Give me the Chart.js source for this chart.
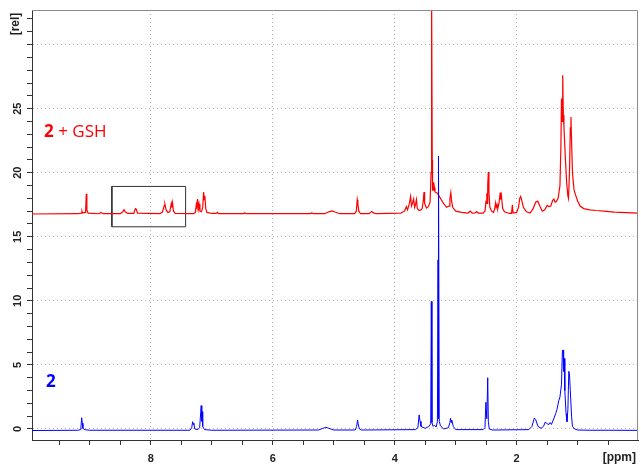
<!DOCTYPE html>
<html>
<head>
<meta charset="utf-8">
<script src="https://cdn.jsdelivr.net/npm/chart.js@4/dist/chart.umd.min.js"></script>
<style>
  html, body { margin: 0; padding: 0; background: #ffffff; }
  #wrap { width: 641px; height: 465px; position: relative; }
</style>
</head>
<body>
<div id="wrap"><canvas id="c" width="641" height="465"></canvas></div>
<script>
// ---- data (ppm, relative intensity) ----
const ppmRange = [0.01, 9.95];
const relRange = [-0.86, 32.7];

// blue spectrum: compound 2
const spectrum2 = [
  [9.95,-0.12],[9.20,-0.10],[9.15,-0.05],[9.135,0.88],[9.125,0.45],[9.115,0.05],[9.08,-0.06],[9.00,-0.10],
  [7.36,-0.10],[7.33,0.10],[7.315,0.57],[7.305,0.35],[7.295,0.45],[7.28,0.00],[7.23,-0.05],[7.20,0.10],
  [7.175,1.82],[7.165,0.60],[7.16,1.35],[7.15,0.20],[7.12,-0.05],[7.00,-0.10],
  [5.25,-0.08],[5.18,0.05],[5.13,0.13],[5.08,0.05],[5.00,-0.08],
  [4.65,-0.08],[4.625,0.20],[4.61,0.70],[4.60,0.40],[4.58,0.00],[4.55,-0.08],
  [3.66,-0.05],[3.62,0.10],[3.60,1.10],[3.585,0.60],[3.57,0.20],[3.50,0.05],[3.44,0.20],[3.41,0.40],
  [3.40,9.95],[3.39,0.50],[3.37,0.20],[3.35,0.30],[3.32,0.15],[3.30,0.60],[3.29,13.2],[3.285,0.80],
  [3.28,21.3],[3.27,0.60],[3.25,0.25],[3.20,0.00],[3.12,0.10],[3.095,0.50],[3.085,0.83],[3.075,0.50],
  [3.065,0.70],[3.04,0.20],[3.00,-0.05],
  [2.55,-0.05],[2.52,0.10],[2.505,2.08],[2.49,0.80],[2.475,4.00],[2.465,0.60],[2.45,0.00],[2.40,-0.08],
  [1.80,-0.05],[1.75,0.20],[1.71,0.85],[1.69,0.75],[1.65,0.20],[1.60,0.05],[1.56,0.20],[1.53,0.55],
  [1.50,0.40],[1.47,0.35],[1.45,0.50],[1.43,0.35],[1.40,0.70],[1.36,1.20],[1.34,1.50],[1.31,2.20],
  [1.29,2.50],[1.265,3.50],[1.25,6.10],[1.24,6.17],[1.23,4.50],[1.22,5.50],[1.21,3.00],[1.19,1.20],
  [1.175,0.57],[1.16,1.50],[1.145,4.50],[1.135,4.35],[1.12,3.00],[1.10,1.00],[1.085,0.20],[1.05,0.00],
  [1.00,-0.08],[0.80,-0.10],[0.50,-0.10],[0.01,-0.11]
];

// red spectrum: compound 2 + GSH (offset plot)
const spectrum2GSH = [
  [9.95,16.78],[9.20,16.80],[9.14,16.85],[9.13,17.00],[9.12,16.85],[9.08,16.90],[9.07,17.00],[9.06,18.35],
  [9.05,17.10],[9.03,16.85],[8.85,16.80],[8.82,16.90],[8.78,16.80],
  [8.50,16.80],[8.46,16.95],[8.44,17.12],[8.42,16.95],[8.38,16.82],
  [8.28,16.82],[8.255,17.20],[8.24,17.15],[8.22,16.85],
  [7.85,16.80],[7.81,16.95],[7.78,17.45],[7.77,17.55],[7.75,17.10],[7.72,16.90],
  [7.69,16.95],[7.665,17.60],[7.655,17.30],[7.645,17.65],[7.63,17.00],[7.60,16.82],
  [7.30,16.80],[7.27,16.90],[7.255,17.50],[7.245,17.30],[7.235,17.95],[7.22,17.20],[7.21,17.55],
  [7.195,17.00],[7.17,16.95],[7.15,17.30],[7.135,18.50],[7.125,17.90],[7.115,18.20],[7.10,17.20],
  [7.08,16.90],[7.00,16.82],[6.93,16.82],[6.91,16.90],[6.89,16.80],
  [6.48,16.80],[6.46,16.88],[6.44,16.80],[5.38,16.80],[5.36,16.87],[5.34,16.80],
  [5.15,16.80],[5.08,16.95],[5.03,17.02],[4.98,16.93],[4.90,16.80],
  [4.66,16.80],[4.63,17.00],[4.615,17.90],[4.605,17.60],[4.59,17.00],[4.56,16.80],
  [4.42,16.80],[4.38,16.98],[4.34,16.85],[4.30,16.80],
  [3.90,16.85],[3.84,17.00],[3.81,17.35],[3.79,17.10],[3.76,17.60],[3.74,18.15],[3.725,17.40],
  [3.71,17.60],[3.69,17.95],[3.675,17.30],[3.66,17.50],[3.645,17.90],[3.63,17.20],[3.60,17.05],
  [3.57,17.10],[3.55,17.20],[3.53,17.90],[3.52,18.50],[3.51,17.60],[3.48,17.25],[3.45,17.35],
  [3.42,17.70],[3.405,20.0],[3.395,33.5],[3.385,21.0],[3.38,18.60],[3.37,19.25],[3.36,18.60],
  [3.35,18.85],[3.34,18.50],[3.30,18.40],[3.25,18.00],[3.20,17.60],[3.15,17.30],[3.11,17.40],
  [3.095,18.00],[3.08,18.45],[3.07,17.90],[3.05,17.30],[3.00,17.00],[2.90,16.90],[2.80,16.85],
  [2.76,17.00],[2.73,16.85],[2.68,16.87],[2.66,16.97],[2.63,16.85],[2.55,16.85],
  [2.52,17.00],[2.505,17.70],[2.495,17.60],[2.49,18.40],[2.48,17.60],[2.475,19.00],[2.465,20.05],
  [2.455,18.50],[2.44,17.30],[2.41,17.00],[2.38,16.90],[2.36,17.20],[2.345,17.65],[2.335,17.30],
  [2.32,17.50],[2.31,17.20],[2.29,17.60],[2.27,18.46],[2.26,17.90],[2.25,18.20],[2.23,17.20],
  [2.20,16.95],[2.12,16.82],[2.085,16.82],[2.07,17.50],[2.06,16.85],[2.00,16.90],[1.97,17.30],
  [1.95,18.00],[1.935,18.15],[1.92,17.90],[1.89,17.30],[1.84,16.95],[1.78,16.85],[1.73,17.20],
  [1.69,17.70],[1.655,17.78],[1.62,17.40],[1.58,17.00],[1.54,17.10],[1.50,17.45],[1.47,17.35],
  [1.44,17.40],[1.41,17.85],[1.39,17.95],[1.37,17.70],[1.35,17.75],[1.32,18.00],[1.29,19.00],
  [1.275,22.0],[1.265,25.80],[1.255,24.00],[1.245,27.60],[1.235,24.50],[1.225,23.60],[1.20,21.00],
  [1.18,19.20],[1.16,18.20],[1.15,18.00],[1.135,19.80],[1.12,23.50],[1.11,24.35],[1.10,22.50],
  [1.085,20.00],[1.06,18.70],[1.04,18.35],[1.00,17.80],[0.96,17.40],[0.90,17.20],[0.80,17.10],
  [0.70,17.05],[0.57,17.00],[0.40,16.92],[0.20,16.88],[0.01,16.85]
];

// highlighted region (box) on the 2 + GSH trace
const boxPpm = [8.64, 7.43];
const boxRel = [15.78, 18.93];

const xMajorLabels = [8, 6, 4, 2];
const yLabelStep = 5;
const yHiddenLabels = [30];

const seriesNames = ['2', '2 + GSH'];
const seriesColors = ['#0000ff', '#ff0000'];

// ---- chart ----
const toPts = arr => arr.map(p => ({x: p[0], y: p[1]}));
const boxPts = [
  {x: boxPpm[0], y: boxRel[0]}, {x: boxPpm[1], y: boxRel[0]},
  {x: boxPpm[1], y: boxRel[1]}, {x: boxPpm[0], y: boxRel[1]},
  {x: boxPpm[0], y: boxRel[0]}
];

const textPlugin = {
  id: 'texts',
  afterDraw(chart) {
    const {ctx, chartArea: a} = chart;
    ctx.save();
    // top & right frame
    ctx.strokeStyle = '#8c8c8c';
    ctx.lineWidth = 1;
    ctx.beginPath();
    ctx.moveTo(a.left, a.top + 0.5);
    ctx.lineTo(a.right - 0.5, a.top + 0.5);
    ctx.lineTo(a.right - 0.5, a.bottom);
    ctx.stroke();

    // series labels
    ctx.textBaseline = 'alphabetic';
    ctx.textAlign = 'left';
    ctx.fillStyle = seriesColors[1];
    ctx.font = 'bold 17px "Open Sans"';
    ctx.fillText('2', 44, 137);
    const w2 = ctx.measureText('2').width;
    ctx.font = '17px "Open Sans"';
    ctx.fillText(' + GSH', 44 + w2, 137);
    ctx.fillStyle = seriesColors[0];
    ctx.font = 'bold 17px "Open Sans"';
    ctx.fillText('2', 46, 387);

    // unit labels
    ctx.fillStyle = '#222';
    ctx.font = 'bold 12px "Liberation Sans", Arial';
    ctx.textAlign = 'right';
    ctx.textBaseline = 'middle';
    ctx.fillText('[ppm]', 636, 458);
    ctx.translate(16, 24);
    ctx.rotate(-Math.PI / 2);
    ctx.textAlign = 'center';
    ctx.fillText('[rel]', 0, 0);
    ctx.restore();
  }
};

new Chart(document.getElementById('c'), {
  type: 'line',
  data: {
    datasets: [
      { label: seriesNames[0], data: toPts(spectrum2), borderColor: seriesColors[0], borderWidth: 1,
        pointRadius: 0, tension: 0, fill: false },
      { label: seriesNames[1], data: toPts(spectrum2GSH), borderColor: seriesColors[1], borderWidth: 1.2,
        pointRadius: 0, tension: 0, fill: false },
      { label: 'box', data: boxPts, borderColor: '#333333', borderWidth: 1,
        pointRadius: 0, tension: 0, fill: false }
    ]
  },
  plugins: [textPlugin],
  options: {
    responsive: false,
    animation: false,
    events: [],
    parsing: true,
    layout: { padding: { top: 10, right: 3, left: 0, bottom: 0 } },
    plugins: { legend: { display: false }, tooltip: { enabled: false } },
    scales: {
      x: {
        type: 'linear',
        reverse: true,
        min: ppmRange[0],
        max: ppmRange[1],
        afterFit: s => { s.height = 25; },
        border: { display: true, color: '#333', width: 1, dash: [1, 3] },
        grid: {
          color: c => (c.tick && xMajorLabels.includes(c.tick.value)) ? '#b4b4b4' : 'transparent',
          lineWidth: 1,
          tickColor: '#333',
          tickLength: 5,
          tickBorderDash: []
        },
        ticks: {
          stepSize: 0.5,
          includeBounds: false,
          autoSkip: false,
          maxRotation: 0,
          minRotation: 0,
          padding: 7,
          color: '#222',
          font: { family: '"Liberation Sans", Arial', size: 11, weight: 'bold' },
          callback: v => xMajorLabels.includes(v) ? String(v) : ''
        }
      },
      y: {
        type: 'linear',
        min: relRange[0],
        max: relRange[1],
        afterFit: s => { s.width = 32; },
        border: { display: true, color: '#333', width: 1, dash: [1, 3] },
        grid: {
          color: c => (c.tick && c.tick.value % yLabelStep === 0) ? '#b4b4b4' : 'transparent',
          lineWidth: 1,
          tickColor: '#333',
          tickLength: 5,
          tickBorderDash: []
        },
        ticks: {
          stepSize: 1,
          includeBounds: false,
          autoSkip: false,
          minRotation: 90,
          maxRotation: 90,
          crossAlign: 'center',
          padding: 3,
          color: '#222',
          font: { family: '"Liberation Sans", Arial', size: 11, weight: 'bold' },
          callback: v => (v % yLabelStep === 0 && !yHiddenLabels.includes(v)) ? String(v) : ''
        }
      }
    }
  }
});
</script>
</body>
</html>
